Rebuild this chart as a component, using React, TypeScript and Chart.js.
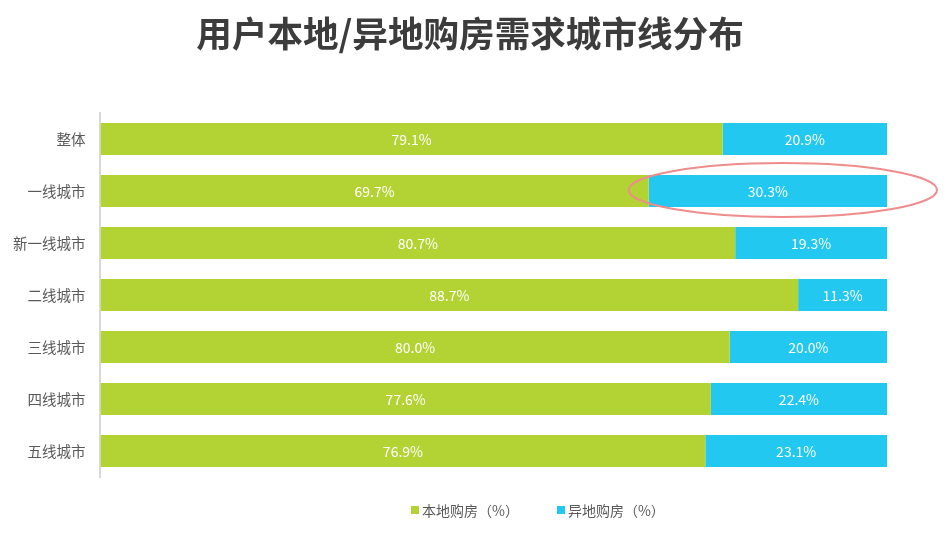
import React, { useEffect, useRef } from "react";
import { Chart, registerables } from "chart.js";

Chart.register(...registerables);

const titleText = "用户本地/异地购房需求城市线分布";
const categories = ["整体", "一线城市", "新一线城市", "二线城市", "三线城市", "四线城市", "五线城市"];
const localValues = [79.1, 69.7, 80.7, 88.7, 80.0, 77.6, 76.9];
const remoteValues = [20.9, 30.3, 19.3, 11.3, 20.0, 22.4, 23.1];
const seriesNames = ["本地购房（%）", "异地购房（%）"];
const seriesColors = ["#b3d334", "#22c8f0"];
const highlightIndex = 1;

const FONT = "'Noto Sans CJK SC', 'Noto Sans', sans-serif";

const labelPlugin = {
  id: "barLabels",
  afterDatasetsDraw(chart: any) {
    const ctx = chart.ctx;
    ctx.save();
    ctx.font = `14px ${FONT}`;
    ctx.fillStyle = "#ffffff";
    ctx.textAlign = "center";
    ctx.textBaseline = "middle";
    chart.data.datasets.forEach((ds: any, di: number) => {
      const meta = chart.getDatasetMeta(di);
      meta.data.forEach((el: any, i: number) => {
        const v = ds.data[i];
        const cx = (el.x + el.base) / 2;
        ctx.fillText(v.toFixed(1) + "%", cx, el.y + 1);
      });
    });
    const el = chart.getDatasetMeta(1).data[highlightIndex];
    if (el) {
      const w = Math.abs(el.x - el.base);
      const cx = (el.x + el.base) / 2 + 15;
      ctx.beginPath();
      ctx.ellipse(cx, el.y - 1, w / 2 + 35, 27, 0, 0, Math.PI * 2);
      ctx.strokeStyle = "#ef8c8c";
      ctx.lineWidth = 2;
      ctx.stroke();
    }
    ctx.restore();
  },
};

export default function App() {
  const ref = useRef<HTMLCanvasElement>(null);
  useEffect(() => {
    document.body.style.margin = "0";
    const chart = new Chart(ref.current!, {
      type: "bar",
      data: {
        labels: categories,
        datasets: [
          {
            label: seriesNames[0],
            data: localValues,
            backgroundColor: seriesColors[0],
            categoryPercentage: 1,
            barPercentage: 0.615,
          },
          {
            label: seriesNames[1],
            data: remoteValues,
            backgroundColor: seriesColors[1],
            categoryPercentage: 1,
            barPercentage: 0.615,
          },
        ],
      },
      options: {
        indexAxis: "y",
        animation: false,
        responsive: false,
        layout: { padding: { left: 6, right: 61, top: 113, bottom: 63 } },
        scales: {
          x: {
            stacked: true,
            min: 0,
            max: 100,
            display: false,
          },
          y: {
            stacked: true,
            grid: { display: false },
            border: { display: true, color: "#d9d9d9", width: 2 },
            ticks: {
              color: "#595959",
              font: { family: FONT, size: 14.5 },
              padding: 7,
            },
          },
        },
        plugins: {
          title: { display: false },
          legend: { display: false },
          tooltip: { enabled: false },
        },
      },
      plugins: [labelPlugin],
    });
    return () => chart.destroy();
  }, []);
  return (
    <div style={{ position: "relative", width: 948, height: 540 }}>
      <canvas ref={ref} width={948} height={540} style={{ display: "block" }} />
      <div
        style={{
          position: "absolute",
          left: 0,
          top: 10,
          width: 940,
          textAlign: "center",
          fontFamily: FONT,
          fontSize: 35.6,
          fontWeight: "bold",
          color: "#3c3c3c",
          lineHeight: "44px",
        }}
      >
        {titleText}
      </div>
      <div
        style={{
          position: "absolute",
          left: 411,
          top: 499,
          display: "flex",
          alignItems: "center",
          fontFamily: FONT,
          fontSize: 14,
          color: "#595959",
          lineHeight: "22px",
        }}
      >
        {seriesNames.map((name, i) => (
          <div key={name} style={{ display: "flex", alignItems: "center", marginRight: 38 }}>
            <span
              style={{
                display: "inline-block",
                width: 8,
                height: 8,
                background: seriesColors[i],
                marginRight: 3,
              }}
            />
            <span>{name}</span>
          </div>
        ))}
      </div>
    </div>
  );
}
